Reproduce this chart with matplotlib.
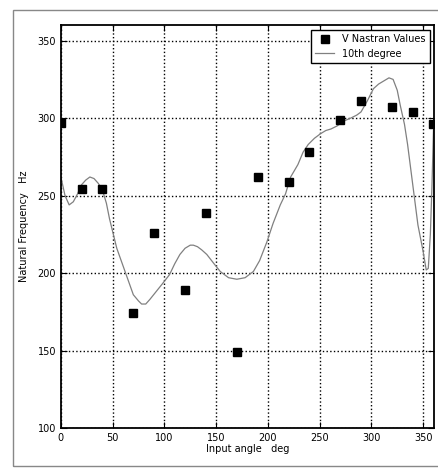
import matplotlib
matplotlib.use('Agg')
import matplotlib.pyplot as plt
from matplotlib.patches import Rectangle

# NASTRAN natural frequency values
angle = [0, 20, 40, 70, 90, 120, 140, 170, 190, 220, 240, 270, 290, 320, 340, 360]
freq = [297, 254, 254, 174, 226, 189, 239, 149, 262, 259, 278, 299, 311, 307, 304, 296]

# 10th degree fit curve
fit_angle = [0, 4, 8, 12, 16, 20, 24, 28, 32, 36, 40, 44, 47, 54, 62, 70, 75,
             78, 82, 86, 92, 98, 105, 110, 115, 120, 125, 128, 132, 136, 141,
             148, 154, 162, 170, 178, 186, 192, 199, 205, 212, 217, 222, 229,
             234, 239, 245, 251, 256, 261, 267, 273, 280, 286, 290, 296, 302,
             307, 312, 317, 321, 325, 328, 332, 335, 340, 345, 350, 353, 355,
             357, 358.5, 360]
fit_freq = [262, 250, 244, 246, 251, 257, 260, 262, 261, 258, 254, 245, 235,
            216, 201, 186, 182, 180, 180, 183, 188, 193, 199, 206, 212, 216,
            218, 218, 217, 215, 212, 206, 201, 197, 196, 197, 201, 208, 220,
            232, 244, 251, 262, 270, 278, 283, 287, 290, 292, 293, 295, 298,
            300, 302, 304, 311, 319, 322, 324, 326, 325, 318, 308, 296, 283,
            257, 231, 214, 202, 203, 225, 255, 292]

xticks = [0, 50, 100, 150, 200, 250, 300, 350]
yticks = [100, 150, 200, 250, 300, 350]

fig = plt.figure(figsize=(4.38, 4.75), dpi=100)
ax = fig.add_axes([0.139, 0.099, 0.853, 0.848])

ax.plot(fit_angle, fit_freq, '-', color='#808080', lw=0.9, label='10th degree')
ax.plot(angle, freq, 's', color='black', ms=5.5, label='V Nastran Values')

ax.set_xlim(0, 361)
ax.set_ylim(100, 360)
ax.set_xticks(xticks)
ax.set_yticks(yticks)
ax.tick_params(direction='in', top=True, right=True, labelsize=7, length=4)
ax.grid(True, color='black', linestyle=':', linewidth=1.0)

for s in ax.spines.values():
    s.set_linewidth(1.3)

ax.set_xlabel('Input angle   deg', fontsize=7, labelpad=1)
ax.set_ylabel('Natural Frequency   Hz', fontsize=7, labelpad=6)

h, l = ax.get_legend_handles_labels()
leg = ax.legend([h[1], h[0]], [l[1], l[0]], loc='upper right', fontsize=7,
                fancybox=False, framealpha=1, edgecolor='black',
                borderaxespad=0.5, handlelength=2)
leg.get_frame().set_linewidth(1.0)

# scan frame around the figure
fig.patches.append(Rectangle((13 / 438, 0.02), 0.99, 0.96, transform=fig.transFigure,
                             fill=False, edgecolor='#888888', lw=1.0))

plt.savefig('out.png', dpi=100)
